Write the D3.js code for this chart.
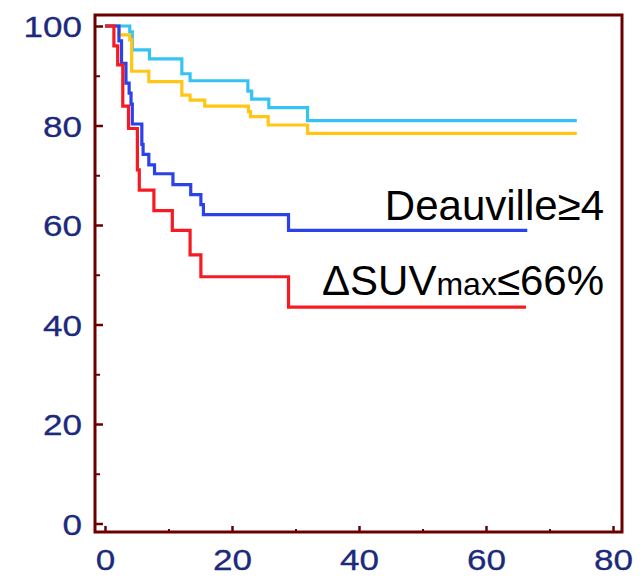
<!DOCTYPE html>
<html>
<head>
<meta charset="utf-8">
<script src="https://cdn.jsdelivr.net/npm/d3@7"></script>
<style>
  html, body { margin: 0; padding: 0; background: #ffffff; }
  svg { display: block; }
</style>
</head>
<body>
<svg id="chart" width="644" height="577"></svg>
<script>
// ---------- data ----------
const xMajorTicks = [0, 20, 40, 60, 80];
const xMinorTicks = [10, 30, 50, 70];
const yMajorTicks = [0, 20, 40, 60, 80, 100];
const yMinorTicks = [10, 30, 50, 70, 90];

// step times (months) and survival (%) after each step
const cyanTimes  = [0, 3.9, 4.3, 7.0, 12.1, 13.4, 22.5, 23.1, 25.8, 31.9, 74.3];
const cyanValues = [100, 98.8, 95.2, 93.4, 90.4, 89.0, 86.9, 85.3, 83.6, 81.0, 81.0];

const yellowTimes  = [0, 2.2, 3.9, 4.2, 6.9, 12.1, 13.4, 15.7, 22.6, 22.9, 25.7, 31.9, 74.3];
const yellowValues = [100, 98.2, 97.2, 90.9, 88.8, 86.1, 85.1, 83.9, 82.8, 81.8, 80.1, 78.4, 78.4];

const blueTimes  = [0, 2.2, 2.6, 3.3, 3.8, 4.1, 4.3, 5.8, 6.0, 6.9, 7.8, 10.7, 13.5, 15.1, 15.5, 28.9, 66.5];
const blueValues = [100, 97.0, 92.5, 88.5, 86.5, 84.3, 80.3, 76.2, 74.2, 72.1, 70.3, 68.1, 66.1, 64.1, 62.1, 58.9, 58.9];

const redTimes  = [0, 1.4, 2.0, 2.8, 3.7, 5.1, 5.4, 7.7, 10.6, 13.4, 15.1, 28.9, 66.3];
const redValues = [100, 96.0, 92.2, 83.9, 79.4, 71.1, 67.0, 62.9, 58.9, 54.0, 49.6, 43.5, 43.5];

const seriesNames = ["cyan", "yellow", "blue", "red"];
const labelDeauville = "Deauville≥4";
const labelSuvA = "ΔSUV";
const labelSuvSub = "max";
const labelSuvB = "≤66%";

// ---------- layout & style ----------
const colors = { cyan: "#35c3f4", yellow: "#ffc713", blue: "#2b42ea", red: "#f51b22" };
const frame = { left: 95, right: 622, top: 15, bottom: 532 };
const axisColor = "#6a0000";
const tickLabelColor = "#1b2a7c";
const stretch = 1.17;

const svg = d3.select("#chart");
const x = d3.scaleLinear().domain([0, 80]).range([105, 613]);
const y = d3.scaleLinear().domain([0, 100]).range([523.5, 26]);

// curves
const seriesData = {
  cyan: cyanTimes.map((t, i) => [t, cyanValues[i]]),
  yellow: yellowTimes.map((t, i) => [t, yellowValues[i]]),
  blue: blueTimes.map((t, i) => [t, blueValues[i]]),
  red: redTimes.map((t, i) => [t, redValues[i]])
};
const line = d3.line().x(d => x(d[0])).y(d => y(d[1])).curve(d3.curveStepAfter);

svg.append("g").selectAll("path")
  .data(seriesNames)
  .join("path")
  .attr("d", n => line(seriesData[n]))
  .attr("fill", "none")
  .attr("stroke", n => colors[n])
  .attr("stroke-width", 3.2);

// axes (ticks inward)
function styleAxis(g, w) {
  g.select(".domain").remove();
  g.selectAll(".tick line").attr("stroke", axisColor).attr("stroke-width", w);
}
function styleLabels(sel) {
  sel.attr("transform", `scale(${stretch},1)`)
    .attr("fill", tickLabelColor)
    .attr("stroke", tickLabelColor)
    .attr("stroke-width", 0.3)
    .style("font-family", "'Liberation Sans', Arial, sans-serif")
    .style("font-size", "30px");
}
const yMajor = svg.append("g").attr("transform", `translate(${frame.left},0)`)
  .call(d3.axisLeft(y).tickValues(yMajorTicks).tickSize(-8).tickFormat(d3.format("d")));
styleAxis(yMajor, 2.5);
yMajor.selectAll(".tick text")
  .attr("x", -13 / stretch)
  .attr("dy", "0.35em")
  .call(styleLabels);

const yMinor = svg.append("g").attr("transform", `translate(${frame.left},0)`)
  .call(d3.axisLeft(y).tickValues(yMinorTicks).tickSize(-5).tickFormat(""));
styleAxis(yMinor, 2);

const xMajor = svg.append("g").attr("transform", `translate(0,${frame.bottom})`)
  .call(d3.axisBottom(x).tickValues(xMajorTicks).tickSize(-6).tickFormat(d3.format("d")));
styleAxis(xMajor, 2.5);
xMajor.selectAll(".tick text")
  .attr("y", 38.5)
  .attr("dy", 0)
  .call(styleLabels);

const xMinor = svg.append("g").attr("transform", `translate(0,${frame.bottom})`)
  .call(d3.axisBottom(x).tickValues(xMinorTicks).tickSize(-3).tickFormat(""));
styleAxis(xMinor, 2);

// frame
svg.append("rect")
  .attr("x", frame.left).attr("y", frame.top)
  .attr("width", frame.right - frame.left)
  .attr("height", frame.bottom - frame.top)
  .attr("fill", "none")
  .attr("stroke", axisColor)
  .attr("stroke-width", 3);

// annotations
svg.append("text")
  .attr("x", 604).attr("y", 220)
  .attr("text-anchor", "end")
  .style("font-family", "'Liberation Sans', Arial, sans-serif")
  .style("font-size", "42px")
  .attr("fill", "#000")
  .text(labelDeauville);

const t2 = svg.append("text")
  .attr("x", 604).attr("y", 295)
  .attr("text-anchor", "end")
  .style("font-family", "'Liberation Sans', Arial, sans-serif")
  .style("font-size", "42px")
  .attr("fill", "#000");
t2.append("tspan").text(labelSuvA);
t2.append("tspan").style("font-size", "32px").text(labelSuvSub);
t2.append("tspan").text(labelSuvB);
</script>
</body>
</html>
